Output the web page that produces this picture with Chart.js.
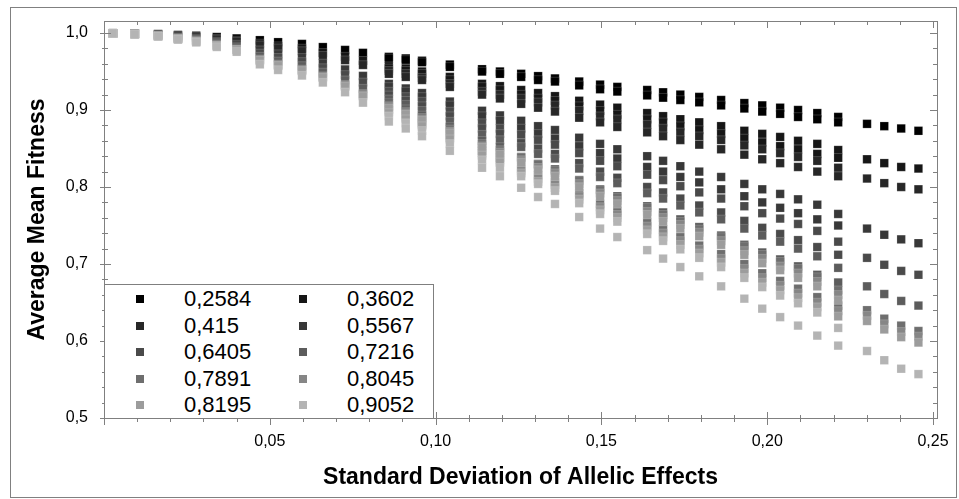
<!DOCTYPE html>
<html>
<head>
<meta charset="utf-8">
<script src="https://cdn.jsdelivr.net/npm/chart.js@4.4.1/dist/chart.umd.min.js"></script>
<style>
  body { margin: 0; background: #fff; }
  #wrap { position: relative; width: 959px; height: 499px; }
  #legend {
    position: absolute; left: 104px; top: 284px; width: 330px; height: 135px;
    box-sizing: border-box; border: 1px solid #7f7f7f; background: #fff;
    font: 22px 'Liberation Sans', Arial, sans-serif; color: #000;
  }
  .item { position: absolute; display: flex; align-items: center; height: 26px; line-height: 26px; }
  .mark { width: 8px; height: 8px; margin-right: 40px; }
</style>
</head>
<body>
<div id="wrap">
  <canvas id="chart"></canvas>
  <div id="legend"></div>
</div>
<script>
// standard deviation of allelic effects (x of each column)
const sdEffects = [0.0027, 0.0093, 0.0163, 0.0223, 0.0278, 0.0340, 0.0400, 0.0470, 0.0525, 0.0597,
  0.0660, 0.0727, 0.0781, 0.0859, 0.0910, 0.0959, 0.1043, 0.1140, 0.1194, 0.1258,
  0.1309, 0.1360, 0.1433, 0.1496, 0.1548, 0.1638, 0.1686, 0.1738, 0.1795, 0.1861,
  0.1931, 0.1985, 0.2039, 0.2093, 0.2151, 0.2214, 0.2301, 0.2353, 0.2404, 0.2456];
// columns where a second run shows up next to the first one
const sdRepeat = sdEffects.slice(13, 36);

const seriesLabels = ['0,2584', '0,3602', '0,415', '0,5567', '0,6405', '0,7216', '0,7891', '0,8045', '0,8195', '0,9052'];
const seriesColors = ['#000000', '#161616', '#272727', '#383838', '#4a4a4a', '#5c5c5c', '#6e6e6e', '#868686', '#9c9c9c', '#b4b4b4'];

const fit2584 = [0.9999, 0.9995, 0.9987, 0.9975, 0.9965, 0.9948, 0.9930, 0.9907, 0.9881, 0.9858, 0.9817, 0.9780, 0.9742,
  0.969, 0.967, 0.964, 0.959, 0.953, 0.950, 0.947, 0.944, 0.941, 0.937, 0.933, 0.930, 0.926, 0.923, 0.920, 0.917, 0.913, 0.909, 0.906, 0.903, 0.900, 0.896, 0.891,
  0.882, 0.879, 0.876, 0.873];
const fit2584b = [0.967, 0.965, 0.962, 0.956, 0.950, 0.947, 0.943, 0.939, 0.937, 0.932, 0.927, 0.924, 0.919, 0.916, 0.913, 0.910, 0.906, 0.902, 0.898, 0.895, 0.891, 0.888, 0.884];

const fit3602 = [0.9998, 0.9993, 0.9982, 0.9966, 0.9951, 0.9928, 0.9903, 0.9865, 0.9830, 0.9799, 0.9744, 0.9694, 0.9640,
  0.957, 0.954, 0.950, 0.943, 0.934, 0.931, 0.926, 0.922, 0.918, 0.912, 0.907, 0.903, 0.896, 0.892, 0.888, 0.884, 0.879, 0.873, 0.869, 0.865, 0.860, 0.856, 0.848,
  0.836, 0.831, 0.826, 0.824];
const fit3602b = [0.954, 0.951, 0.947, 0.939, 0.930, 0.926, 0.920, 0.915, 0.912, 0.905, 0.899, 0.894, 0.888, 0.884, 0.879, 0.874, 0.869, 0.863, 0.858, 0.853, 0.849, 0.843, 0.838];

const fit415 = [0.9998, 0.9992, 0.9979, 0.9961, 0.9944, 0.9917, 0.9888, 0.9841, 0.9802, 0.9766, 0.9705, 0.9647, 0.9585,
  0.951, 0.947, 0.942, 0.934, 0.924, 0.920, 0.915, 0.910, 0.906, 0.899, 0.892, 0.888, 0.881, 0.876, 0.871, 0.866, 0.861, 0.854, 0.849, 0.844, 0.839, 0.834, 0.825,
  0.811, 0.805, 0.800, 0.797];
const fit415b = [0.947, 0.943, 0.939, 0.930, 0.920, 0.915, 0.908, 0.903, 0.898, 0.890, 0.884, 0.878, 0.871, 0.866, 0.861, 0.855, 0.849, 0.842, 0.836, 0.831, 0.826, 0.820, 0.814];

const fit5567 = [0.9997, 0.9989, 0.9972, 0.9947, 0.9925, 0.9889, 0.9850, 0.9777, 0.9726, 0.9678, 0.9605, 0.9527, 0.9443,
  0.934, 0.928, 0.922, 0.911, 0.899, 0.893, 0.886, 0.879, 0.874, 0.864, 0.856, 0.849, 0.840, 0.834, 0.827, 0.820, 0.813, 0.804, 0.797, 0.791, 0.784, 0.777, 0.765,
  0.746, 0.738, 0.732, 0.727];
const fit5567b = [0.930, 0.924, 0.917, 0.906, 0.892, 0.886, 0.876, 0.869, 0.863, 0.853, 0.844, 0.837, 0.826, 0.820, 0.813, 0.806, 0.797, 0.788, 0.780, 0.773, 0.766, 0.758, 0.750];

const fit6405 = [0.9997, 0.9987, 0.9968, 0.9939, 0.9914, 0.9872, 0.9827, 0.9735, 0.9679, 0.9625, 0.9545, 0.9456, 0.9359,
  0.924, 0.917, 0.911, 0.898, 0.883, 0.876, 0.868, 0.861, 0.855, 0.844, 0.834, 0.827, 0.816, 0.809, 0.801, 0.793, 0.785, 0.775, 0.766, 0.759, 0.752, 0.743, 0.729,
  0.708, 0.699, 0.691, 0.686];
const fit6405b = [0.919, 0.912, 0.905, 0.892, 0.876, 0.869, 0.857, 0.850, 0.843, 0.831, 0.820, 0.812, 0.800, 0.793, 0.785, 0.776, 0.767, 0.756, 0.747, 0.739, 0.731, 0.722, 0.712];

const fit7216 = [0.9996, 0.9986, 0.9964, 0.9931, 0.9903, 0.9856, 0.9805, 0.9694, 0.9632, 0.9572, 0.9488, 0.9387, 0.9278,
  0.914, 0.907, 0.899, 0.885, 0.868, 0.861, 0.852, 0.843, 0.837, 0.824, 0.813, 0.805, 0.792, 0.785, 0.776, 0.767, 0.758, 0.746, 0.737, 0.729, 0.720, 0.710, 0.695,
  0.671, 0.661, 0.652, 0.646];
const fit7216b = [0.909, 0.901, 0.893, 0.878, 0.860, 0.852, 0.839, 0.830, 0.823, 0.809, 0.797, 0.788, 0.775, 0.767, 0.758, 0.748, 0.737, 0.725, 0.715, 0.706, 0.697, 0.686, 0.676];

const fit7891 = [0.9996, 0.9984, 0.9961, 0.9925, 0.9893, 0.9842, 0.9787, 0.9658, 0.9592, 0.9527, 0.9440, 0.9329, 0.9211,
  0.906, 0.898, 0.890, 0.875, 0.856, 0.848, 0.838, 0.829, 0.821, 0.808, 0.796, 0.786, 0.773, 0.764, 0.755, 0.745, 0.735, 0.723, 0.712, 0.703, 0.694, 0.683, 0.666,
  0.640, 0.629, 0.620, 0.613];
const fit7891b = [0.900, 0.892, 0.883, 0.867, 0.847, 0.838, 0.824, 0.815, 0.806, 0.792, 0.778, 0.769, 0.754, 0.745, 0.735, 0.724, 0.713, 0.700, 0.688, 0.678, 0.668, 0.657, 0.646];

const fit8045 = [0.9996, 0.9984, 0.9960, 0.9924, 0.9891, 0.9839, 0.9783, 0.9649, 0.9582, 0.9516, 0.9429, 0.9316, 0.9195,
  0.904, 0.896, 0.888, 0.872, 0.853, 0.845, 0.835, 0.825, 0.818, 0.804, 0.792, 0.782, 0.768, 0.760, 0.751, 0.741, 0.730, 0.717, 0.707, 0.697, 0.688, 0.677, 0.660,
  0.633, 0.622, 0.612, 0.606];
const fit8045b = [0.898, 0.890, 0.881, 0.864, 0.844, 0.835, 0.821, 0.811, 0.803, 0.788, 0.774, 0.764, 0.749, 0.740, 0.730, 0.719, 0.707, 0.694, 0.682, 0.672, 0.662, 0.650, 0.639];

const fit8195 = [0.9996, 0.9984, 0.9959, 0.9922, 0.9889, 0.9836, 0.9779, 0.9641, 0.9573, 0.9507, 0.9418, 0.9303, 0.9180,
  0.902, 0.894, 0.886, 0.870, 0.851, 0.842, 0.832, 0.822, 0.814, 0.800, 0.788, 0.778, 0.764, 0.755, 0.746, 0.736, 0.725, 0.712, 0.701, 0.692, 0.682, 0.671, 0.653,
  0.626, 0.615, 0.605, 0.598];
const fit8195b = [0.896, 0.888, 0.879, 0.862, 0.841, 0.832, 0.818, 0.807, 0.799, 0.784, 0.770, 0.760, 0.744, 0.735, 0.725, 0.714, 0.702, 0.688, 0.676, 0.666, 0.656, 0.644, 0.632];

const fit9052 = [0.9995, 0.9982, 0.9955, 0.9914, 0.9878, 0.9819, 0.9756, 0.9593, 0.9520, 0.9448, 0.9357, 0.9231, 0.9095,
  0.892, 0.883, 0.873, 0.856, 0.835, 0.825, 0.814, 0.804, 0.795, 0.779, 0.765, 0.755, 0.739, 0.730, 0.719, 0.708, 0.696, 0.682, 0.670, 0.659, 0.649, 0.637, 0.617,
  0.587, 0.575, 0.564, 0.557];
const fit9052b = [0.885, 0.876, 0.866, 0.847, 0.825, 0.814, 0.799, 0.787, 0.778, 0.761, 0.746, 0.735, 0.718, 0.707, 0.696, 0.684, 0.671, 0.655, 0.642, 0.631, 0.620, 0.607, 0.594];

const fitMain = [fit2584, fit3602, fit415, fit5567, fit6405, fit7216, fit7891, fit8045, fit8195, fit9052];
const fitRepeat = [fit2584b, fit3602b, fit415b, fit5567b, fit6405b, fit7216b, fit7891b, fit8045b, fit8195b, fit9052b];

const yTicks = [0.5, 0.6, 0.7, 0.8, 0.9, 1.0];
const xTicks = [0.05, 0.10, 0.15, 0.20, 0.25];

const fontFamily = "'Liberation Sans', Arial, sans-serif";
Chart.defaults.font.family = fontFamily;
Chart.defaults.color = '#000';

const datasets = seriesLabels.map((label, i) => ({
  label,
  data: sdEffects.map((x, k) => ({ x, y: fitMain[i][k] }))
    .concat(sdRepeat.map((x, k) => ({ x, y: fitRepeat[i][k] }))),
  backgroundColor: seriesColors[i],
  borderColor: 'rgba(255,255,255,0.3)',
  borderWidth: 0.6,
  pointStyle: 'rect',
  pointRadius: 6,
  order: seriesLabels.length - i
}));

// frame, plot box and tick marks
const framePlugin = {
  id: 'frame',
  afterDraw(chart) {
    const { ctx, chartArea: a, scales: { x, y } } = chart;
    ctx.save();
    ctx.strokeStyle = '#808080';
    ctx.lineWidth = 1;
    ctx.strokeRect(10.5, 7.5, 946, 490);
    ctx.strokeRect(a.left + 0.5, a.top + 0.5, a.right - a.left, a.bottom - a.top);
    ctx.beginPath();
    for (let i = 0; i <= 25; i++) {
      const px = Math.round(x.getPixelForValue(i / 100)) + 0.5;
      const len = i % 5 === 0 ? 7 : 4;
      ctx.moveTo(px, a.bottom - len + 1); ctx.lineTo(px, a.bottom + len);
      ctx.moveTo(px, a.top); ctx.lineTo(px, a.top + len);
    }
    for (let i = 0; i <= 25; i++) {
      const py = Math.round(y.getPixelForValue(0.5 + i * 0.02)) + 0.5;
      const major = i % 5 === 0;
      const len = major ? 7 : 4;
      ctx.moveTo(a.left - (major ? 4 : 2), py); ctx.lineTo(a.left + len, py);
      ctx.moveTo(a.right - len, py); ctx.lineTo(a.right, py);
    }
    ctx.stroke();
    ctx.restore();
  }
};

new Chart(document.getElementById('chart'), {
  type: 'scatter',
  data: { datasets },
  options: {
    responsive: true,
    maintainAspectRatio: false,
    animation: false,
    layout: { padding: { left: 0, top: 21, right: 22, bottom: 0 } },
    plugins: { legend: { display: false }, tooltip: { enabled: false } },
    scales: {
      x: {
        type: 'linear', min: 0, max: 0.2512,
        grid: { display: false, drawTicks: false },
        border: { display: false },
        afterFit: s => { s.height = 81; s.paddingLeft = 0; s.paddingRight = 0; },
        afterBuildTicks: s => { s.ticks = xTicks.map(v => ({ value: v })); },
        ticks: { padding: 14, font: { size: 16 }, callback: v => v.toFixed(2).replace('.', ',') },
        title: {
          display: true, text: 'Standard Deviation of Allelic Effects',
          font: { size: 23, weight: 'bold' }, padding: { top: 0, bottom: 8 }
        }
      },
      y: {
        type: 'linear', min: 0.5, max: 1.0156,
        grid: { display: false, drawTicks: false },
        border: { display: false },
        afterFit: s => { s.width = 104; s.paddingTop = 0; s.paddingBottom = 0; },
        afterBuildTicks: s => { s.ticks = yTicks.map(v => ({ value: v })); },
        ticks: { padding: 16, font: { size: 16 }, callback: v => v.toFixed(1).replace('.', ',') },
        title: {
          display: true, text: 'Average Mean Fitness',
          font: { size: 23, weight: 'bold' }, padding: { top: 24, bottom: 0 }
        }
      }
    }
  },
  plugins: [framePlugin]
});

// legend in two columns, filled row by row
const legend = document.getElementById('legend');
seriesLabels.forEach((label, i) => {
  const item = document.createElement('div');
  item.className = 'item';
  item.style.left = (i % 2 === 0 ? 31 : 194) + 'px';
  item.style.top = (1 + Math.floor(i / 2) * 26.5) + 'px';
  const mark = document.createElement('span');
  mark.className = 'mark';
  mark.style.background = seriesColors[i];
  const text = document.createElement('span');
  text.textContent = label;
  item.appendChild(mark);
  item.appendChild(text);
  legend.appendChild(item);
});
</script>
</body>
</html>
